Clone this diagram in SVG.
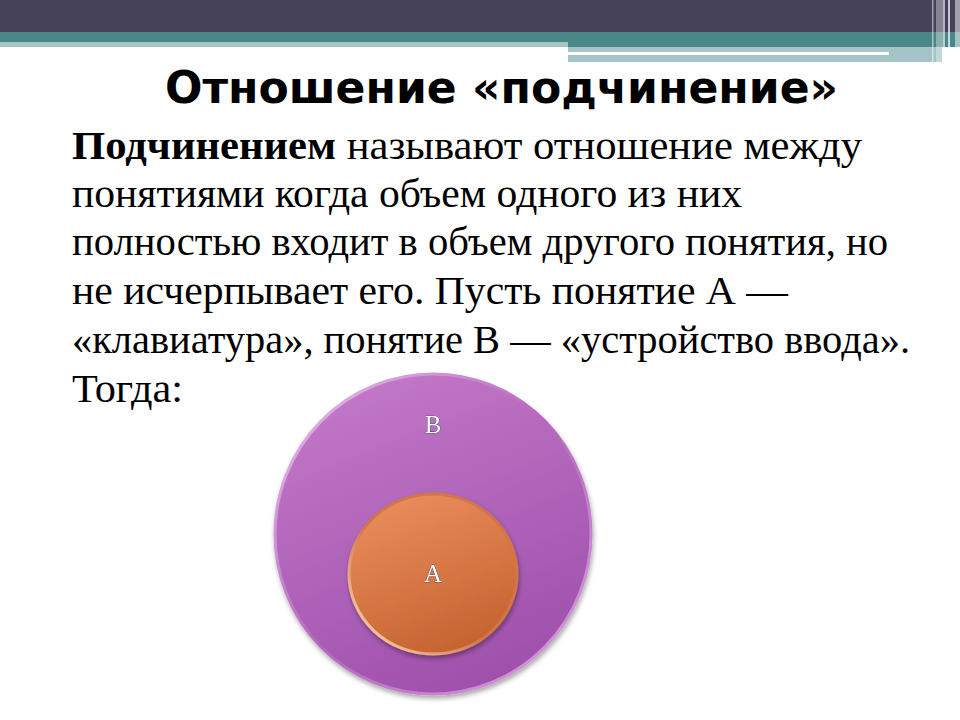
<svg xmlns="http://www.w3.org/2000/svg" width="960" height="720" viewBox="0 0 960 720">
<defs>
<style>
.title{font-family:"DejaVu Sans","Liberation Sans",sans-serif;font-weight:bold;font-size:45px;fill:#000}
.body{font-family:"Liberation Serif","Times New Roman",serif;font-size:40px;fill:#000}
.b{font-weight:bold}
.lbl{font-family:"Liberation Serif","Times New Roman",serif;font-size:25px;fill:#fff;stroke:#22356e;stroke-width:0.7;paint-order:stroke}
</style>
<linearGradient id="gB" x1="0.3" y1="0" x2="0.7" y2="1">
<stop offset="0" stop-color="#c277c7"/>
<stop offset="1" stop-color="#9d4fab"/>
</linearGradient>
<linearGradient id="rimB" x1="0" y1="0" x2="1" y2="1">
<stop offset="0" stop-color="#ecc4ee"/>
<stop offset="0.5" stop-color="#b466bc"/>
<stop offset="1" stop-color="#d6a6de"/>
</linearGradient>
<linearGradient id="gA" x1="0.3" y1="0" x2="0.7" y2="1">
<stop offset="0" stop-color="#e98c5c"/>
<stop offset="1" stop-color="#c4622f"/>
</linearGradient>
<linearGradient id="rimA" x1="1" y1="0" x2="0" y2="1">
<stop offset="0" stop-color="#d27446"/>
<stop offset="0.55" stop-color="#d27446"/>
<stop offset="1" stop-color="#ffe4c0"/>
</linearGradient>
<filter id="sh" x="-10%" y="-10%" width="120%" height="120%">
<feGaussianBlur in="SourceAlpha" stdDeviation="2.5"/>
<feOffset dx="1" dy="3"/>
<feComponentTransfer><feFuncA type="linear" slope="0.35"/></feComponentTransfer>
<feMerge><feMergeNode/><feMergeNode in="SourceGraphic"/></feMerge>
</filter>
</defs>
<rect width="960" height="720" fill="#fff"/>
<g id="header">
<rect x="0" y="0" width="960" height="32" fill="#46425a"/>
<rect x="0" y="32" width="960" height="15" fill="#4a8888"/>
<rect x="0" y="42" width="568" height="5" fill="#a4c4c6"/>
<rect x="568" y="47" width="374" height="15" fill="#a4c4c6"/>
<rect x="568" y="52" width="321" height="3" fill="#fff"/>
<rect x="932" y="0" width="1.5" height="62" fill="#fff" opacity="0.5"/>
<rect x="936" y="0" width="7" height="62" fill="#fff" opacity="0.35"/>
<rect x="943" y="0" width="2" height="65" fill="#fff" opacity="0.6"/>
<rect x="948" y="0" width="2" height="65" fill="#fff" opacity="0.7"/>
<rect x="955" y="0" width="5" height="62" fill="#fff" opacity="0.5"/>
</g>
<g id="title">
<text class="title" x="165" y="103" textLength="673" lengthAdjust="spacingAndGlyphs">Отношение «подчинение»</text>
</g>
<g id="body">
<text class="body" x="72" y="159" textLength="790" lengthAdjust="spacingAndGlyphs"><tspan class="b">Подчинением</tspan> называют отношение между</text>
<text class="body" x="72" y="207" textLength="670" lengthAdjust="spacingAndGlyphs">понятиями когда объем одного из них</text>
<text class="body" x="72" y="255" textLength="816" lengthAdjust="spacingAndGlyphs">полностью входит в объем другого понятия, но</text>
<text class="body" x="72" y="304" textLength="716" lengthAdjust="spacingAndGlyphs">не исчерпывает его. Пусть понятие А —</text>
<text class="body" x="72" y="353" textLength="838" lengthAdjust="spacingAndGlyphs">«клавиатура», понятие В — «устройство ввода».</text>
<text class="body" x="72" y="402" textLength="111" lengthAdjust="spacingAndGlyphs">Тогда:</text>
</g>
<g id="nodeB" filter="url(#sh)">
<ellipse cx="433" cy="534" rx="158" ry="160" fill="url(#gB)" stroke="url(#rimB)" stroke-width="3"/>
<text class="lbl" x="433" y="433" text-anchor="middle">B</text>
</g>
<g id="nodeA" filter="url(#sh)">
<ellipse cx="433" cy="574" rx="84" ry="80" fill="url(#gA)" stroke="url(#rimA)" stroke-width="3"/>
<text class="lbl" x="433" y="582" text-anchor="middle">A</text>
</g>
<g id="connectors"/>
</svg>
